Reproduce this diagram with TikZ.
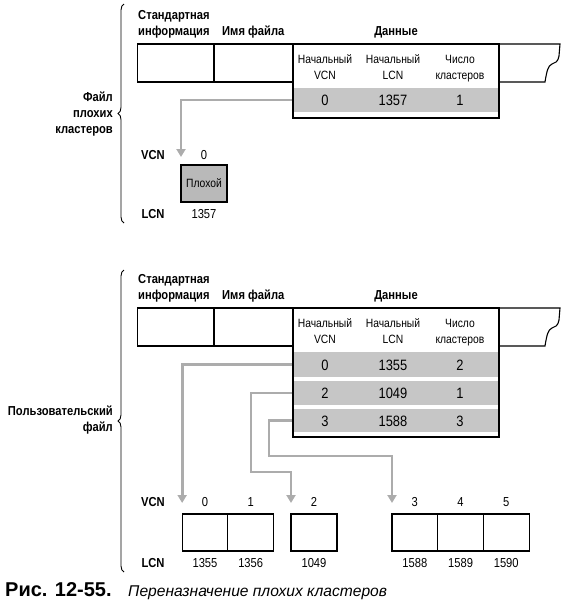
\documentclass[tikz,border=0pt]{standalone}
\usepackage{fontspec}
\setmainfont{Liberation Sans}[FakeStretch=0.86]
\newfontfamily\capfont{Liberation Sans}
\usetikzlibrary{arrows.meta,decorations.pathreplacing}
\begin{document}
\begin{tikzpicture}[x=1pt,y=-1pt,
  lbl/.style={inner sep=0pt, anchor=base, font=\bfseries\fontsize{13}{15}\selectfont},
  lblw/.style={lbl, anchor=base west},
  lble/.style={lbl, anchor=base east},
  hdr/.style={inner sep=0pt, anchor=base, font=\fontsize{12}{14}\selectfont},
  val/.style={inner sep=0pt, anchor=base, font=\fontsize{15}{17}\selectfont},
  num/.style={inner sep=0pt, anchor=base, font=\fontsize{13}{15}\selectfont},
  rowfill/.style={fill=gray!45, inner sep=0pt, outer sep=0pt, minimum width=204pt},
  cellbox/.style={draw=black, line width=1.1pt, inner sep=0pt, outer sep=0pt, minimum width=45.7pt, minimum height=37pt},
  recline/.style={draw=black, line width=1.1pt},
  garrow/.style={draw=gray!65, line width=2.8pt, -{Triangle[width=9pt,length=8pt]}},
  bracel/.style={draw=black, line width=0.9pt, decorate, decoration={brace, amplitude=6pt}}
]
\useasboundingbox (0,0) rectangle (570,606);

% ================= Section 1 =================
\draw[bracel] (124,223) -- (124,4);
\node[lble] (f1a) at (113,101.5) {Файл};
\node[lble] (f1b) at (113,117.5) {плохих};
\node[lble] (f1c) at (113,133.5) {кластеров};

\node[lblw] (s1a) at (138,19.5) {Стандартная};
\node[lblw] (s1b) at (138,35.5) {информация};
\node[lblw] (n1) at (222,35.5) {Имя файла};
\node[lbl] (d1) at (396,35.5) {Данные};

\node[rowfill, minimum height=24pt] (q1) at (396,100) {};
\node[cellbox, fill=gray!55, minimum width=46pt, font=\fontsize{12}{14}\selectfont] (bad) at (204,183.5) {Плохой};

\draw[garrow] (q1.west) -| ([yshift=8pt]bad.north west);

\draw[recline] (137.5,44) rectangle (214,82);
\draw[recline] (214,44) rectangle (293,82);
\draw[recline] (293,44) rectangle (499,118);
\draw[recline] (499,44) -- (560,44) -- (559,56) .. controls (558,62) and (555,63) .. (552,64)
   .. controls (548,66) and (547,70) .. (545,82) -- (499,82);

\node[hdr] (h1a) at (325,63.7) {Начальный};
\node[hdr] (h1b) at (325,79.3) {VCN};
\node[hdr] (h1c) at (393,63.7) {Начальный};
\node[hdr] (h1d) at (393,79.3) {LCN};
\node[hdr] (h1e) at (460,63.7) {Число};
\node[hdr] (h1f) at (460,79.3) {кластеров};

\node[val] (v1a) at (325,105.5) {0};
\node[val] (v1b) at (393,105.5) {1357};
\node[val] (v1c) at (460,105.5) {1};

\node[lbl] (vcn1) at (153,159.3) {VCN};
\node[num] (z1) at (204,159.3) {0};
\node[lbl] (lcn1) at (153,218.3) {LCN};
\node[num] (l1) at (204,218.3) {1357};

% ================= Section 2 =================
\draw[bracel] (124,572) -- (124,270);
\node[lble] (p2a) at (113,415) {Пользовательский};
\node[lble] (p2b) at (113,431) {файл};

\node[lblw] (s2a) at (138,283.5) {Стандартная};
\node[lblw] (s2b) at (138,299.5) {информация};
\node[lblw] (n2) at (222,299.5) {Имя файла};
\node[lbl] (d2) at (396,299.5) {Данные};

\node[rowfill, minimum height=25pt] (r1) at (396,364.5) {};
\node[rowfill, minimum height=24pt] (r2) at (396,393) {};
\node[rowfill, minimum height=23pt] (r3) at (396,420.5) {};

\coordinate (b2) at (251,472);
\coordinate (b3) at (269,456);

\node[cellbox] (c0) at (205,532.5) {};
\node[cellbox] (c1) at (250.7,532.5) {};
\node[cellbox, minimum width=46pt] (c2) at (314,532.5) {};
\node[cellbox] (c3) at (414.85,532.5) {};
\node[cellbox] (c4) at (460.55,532.5) {};
\node[cellbox] (c5) at (506.25,532.5) {};

\draw[garrow] (r1.west) -| ([yshift=11pt]c0.north west);
\draw[garrow] (r2.west) -| (b2) -| ([yshift=11pt]c2.north west);
\draw[garrow] (r3.west) -| (b3) -| ([yshift=11pt]c3.north west);

\draw[recline] (137.5,308) rectangle (214,346);
\draw[recline] (214,308) rectangle (293,346);
\draw[recline] (293,308) rectangle (499,437);
\draw[recline] (499,308) -- (560,308) -- (559,320) .. controls (558,326) and (555,327) .. (552,328)
   .. controls (548,330) and (547,334) .. (545,346) -- (499,346);

\node[hdr] (h2a) at (325,327.7) {Начальный};
\node[hdr] (h2b) at (325,343.3) {VCN};
\node[hdr] (h2c) at (393,327.7) {Начальный};
\node[hdr] (h2d) at (393,343.3) {LCN};
\node[hdr] (h2e) at (460,327.7) {Число};
\node[hdr] (h2f) at (460,343.3) {кластеров};

\node[val] (w1a) at (325,370) {0};
\node[val] (w1b) at (393,370) {1355};
\node[val] (w1c) at (460,370) {2};
\node[val] (w2a) at (325,398.5) {2};
\node[val] (w2b) at (393,398.5) {1049};
\node[val] (w2c) at (460,398.5) {1};
\node[val] (w3a) at (325,426) {3};
\node[val] (w3b) at (393,426) {1588};
\node[val] (w3c) at (460,426) {3};

\node[lbl] (vcn2) at (153,506) {VCN};
\node[num] (k0) at (c0.center |- 0,506) {0};
\node[num] (k1) at (c1.center |- 0,506) {1};
\node[num] (k2) at (c2.center |- 0,506) {2};
\node[num] (k3) at (c3.center |- 0,506) {3};
\node[num] (k4) at (c4.center |- 0,506) {4};
\node[num] (k5) at (c5.center |- 0,506) {5};

\node[lbl] (lcn2) at (153,567.3) {LCN};
\node[num] (m0) at (c0.center |- 0,567.3) {1355};
\node[num] (m1) at (c1.center |- 0,567.3) {1356};
\node[num] (m2) at (c2.center |- 0,567.3) {1049};
\node[num] (m3) at (c3.center |- 0,567.3) {1588};
\node[num] (m4) at (c4.center |- 0,567.3) {1589};
\node[num] (m5) at (c5.center |- 0,567.3) {1590};

% ================= Caption =================
\node[inner sep=0pt, anchor=base west, font=\capfont\bfseries\fontsize{20}{22}\selectfont] (cap1) at (5,596.7) {Рис. 12-55.};
\node[inner sep=0pt, anchor=base west, font=\capfont\itshape\fontsize{15.6}{18}\selectfont] (cap2) at (128,596.7) {Переназначение плохих кластеров};
\end{tikzpicture}
\end{document}
